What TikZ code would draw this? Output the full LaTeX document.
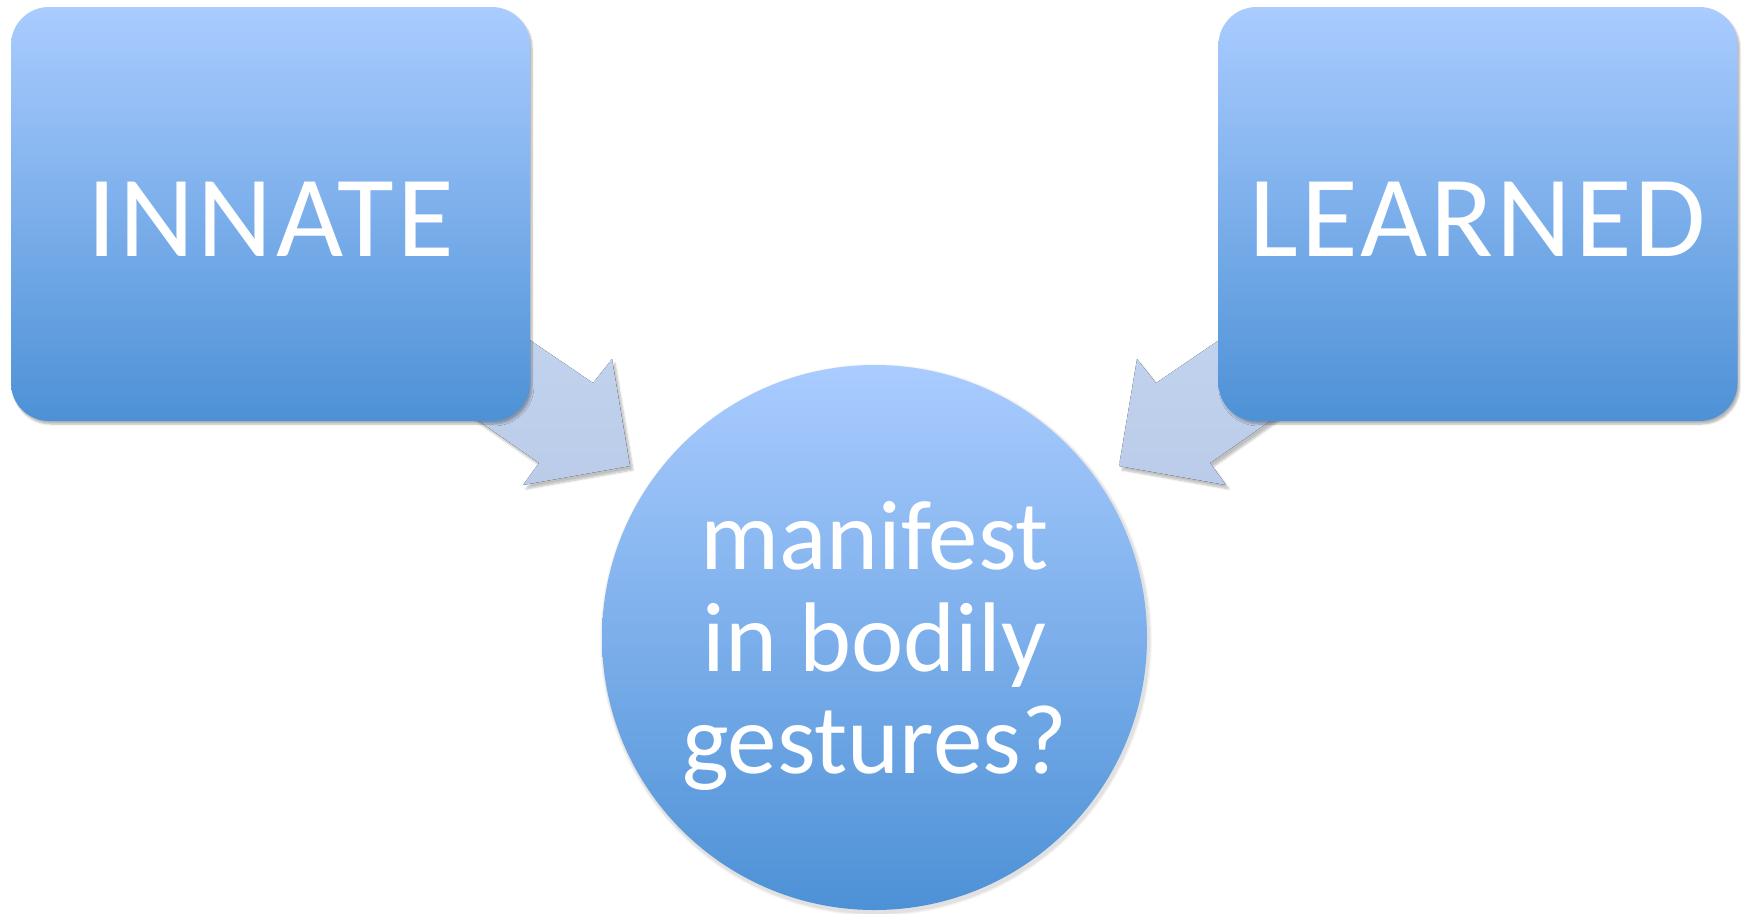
\documentclass[tikz,border=0pt]{standalone}
\usepackage{fontspec}
\setmainfont{Carlito}
\newfontfamily\boxfont[LetterSpace=2.8]{Carlito}
\usetikzlibrary{shadows.blur}
\definecolor{topblue}{RGB}{170,204,255}
\definecolor{botblue}{RGB}{77,145,214}
\definecolor{arrtop}{RGB}{199,215,241}
\definecolor{arrbot}{RGB}{186,204,233}
\begin{document}
\begin{tikzpicture}[x=1pt,y=-1pt,
  bigbox/.style={rectangle, rounded corners=38pt, top color=topblue, bottom color=botblue,
    draw=none, minimum width=519pt, minimum height=414pt,
    blur shadow={shadow xshift=2pt, shadow yshift=-3pt, shadow blur steps=6, shadow opacity=30}},
  boxtext/.style={text=white, font=\boxfont\fontsize{116}{130}\selectfont},
  bigcirc/.style={circle, top color=topblue, bottom color=botblue, draw=none,
    minimum size=545pt, inner sep=0pt},
  circtext/.style={text=white, align=center, font=\fontsize{99}{102}\selectfont},
  blockarrow/.style={top color=arrtop, bottom color=arrbot, draw=none,
    blur shadow={shadow xshift=3pt, shadow yshift=-4pt, shadow blur steps=6, shadow opacity=25}}
]
\useasboundingbox (0,0) rectangle (1747,913);
% block arrows (tails hidden under the boxes)
\fill[blockarrow] (380,238) -- (593,383) -- (612,359) -- (630,466) -- (523,485) -- (539,463) -- (380,352) -- cycle;
\fill[blockarrow] (1369,238) -- (1156,383) -- (1137,359) -- (1119,466) -- (1226,485) -- (1210,463) -- (1369,352) -- cycle;
% boxes
\node[bigbox] (innate) at (270.5,214) {};
\node[boxtext] (innatet) at ([yshift=-5pt]innate.center) {INNATE};
\node[bigbox] (learned) at (1478,214) {};
\node[boxtext] (learnedt) at ([yshift=-5pt]learned.center) {LEARNED};
% circle with soft shadow
\foreach \r/\o in {276/0.03,275/0.04,274/0.05} {
  \fill[black, opacity=\o] (876,640) circle[radius=\r];
}
\node[bigcirc] (q) at (874.5,637.5) {};
\node[circtext] (qt) at ([yshift=-8pt]q.center) {manifest\\in bodily\\gestures?};
\end{tikzpicture}
\end{document}
